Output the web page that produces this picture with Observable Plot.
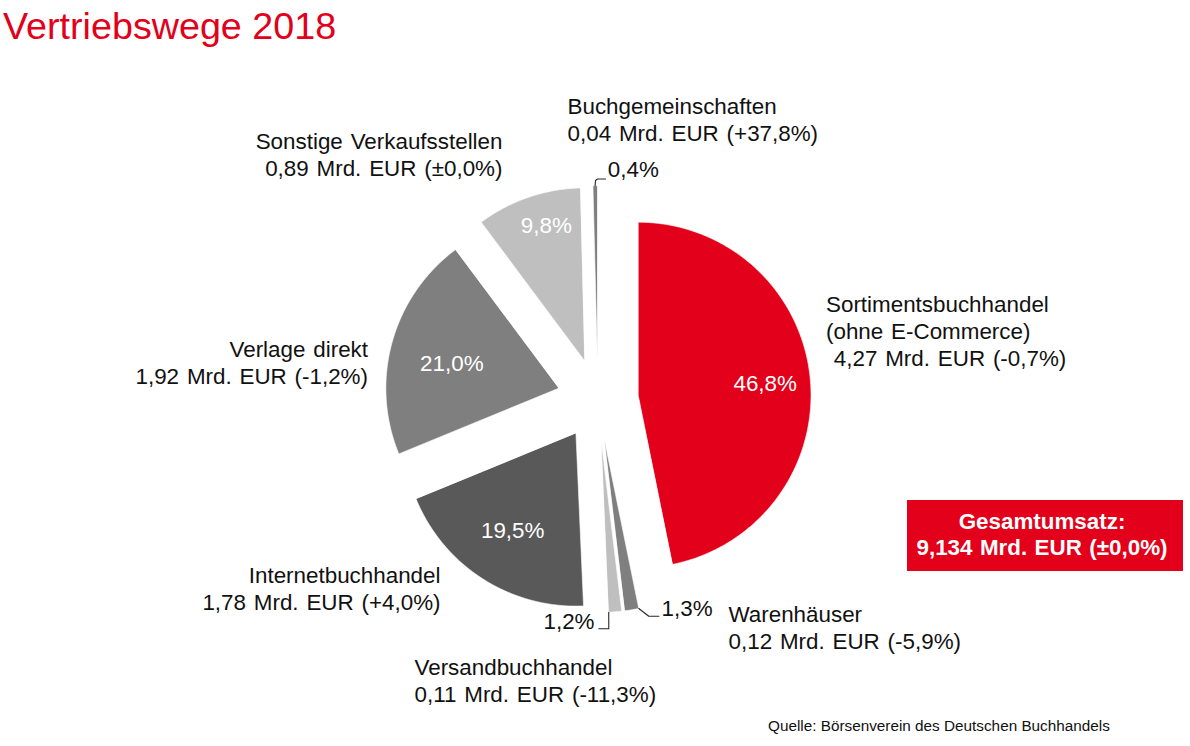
<!DOCTYPE html>
<html>
<head>
<meta charset="utf-8">
<script src="https://cdn.jsdelivr.net/npm/d3@7"></script>
<script src="https://cdn.jsdelivr.net/npm/@observablehq/plot@0.6"></script>
<style>
  html, body { margin: 0; padding: 0; background: #ffffff; }
  body { font-family: "Liberation Sans", Arial, sans-serif; }
  #wrap { position: relative; width: 1190px; height: 746px; overflow: hidden; }
  #title { height: 56px; box-sizing: border-box; padding: 8.1px 0 0 3px; font-size: 37.7px; line-height: 37.7px; color: #e2001a; white-space: nowrap; }
  #total { position: absolute; left: 907px; top: 500px; width: 276px; height: 71px; box-sizing: border-box; padding: 8.5px 6px 0 0; background: #e2001a; color: #ffffff; font-weight: bold; font-size: 22.4px; line-height: 26px; text-align: center; white-space: nowrap; word-spacing: 1.2px; }
  #source { position: absolute; left: 768px; top: 717.8px; font-size: 15.3px; line-height: 15.3px; color: #111111; white-space: nowrap; }
  #chart svg text { word-spacing: 1.6px; }
</style>
</head>
<body>
<div id="wrap">
  <div id="title"></div>
  <div id="chart"></div>
  <div id="total"></div>
  <div id="source"></div>
</div>
<script>
// ---------------- data ----------------
const titleText = "Vertriebswege 2018";
const names = ["Sortimentsbuchhandel", "Warenhäuser", "Versandbuchhandel", "Internetbuchhandel", "Verlage direkt", "Sonstige Verkaufsstellen", "Buchgemeinschaften"];
const nameExtras = ["(ohne E-Commerce)", "", "", "", "", "", ""];
const shares = [46.8, 1.3, 1.2, 19.5, 21.0, 9.8, 0.4];
const shareLabels = ["46,8%", "1,3%", "1,2%", "19,5%", "21,0%", "9,8%", "0,4%"];
const revenues = ["4,27", "0,12", "0,11", "1,78", "1,92", "0,89", "0,04"];
const changes = ["-0,7%", "-5,9%", "-11,3%", "+4,0%", "-1,2%", "±0,0%", "+37,8%"];
const totalLabel = "Gesamtumsatz:";
const totalRevenue = "9,134";
const totalChange = "±0,0%";
const sourceText = "Quelle: Börsenverein des Deutschen Buchhandels";

// ---------------- styles / layout ----------------
const sliceColors = ["#e2001a", "#7f7f7f", "#bfbfbf", "#595959", "#7f7f7f", "#bfbfbf", "#7f7f7f"];
const W = 1190, H = 656;          // svg size
const cx = 597.3, cy = 342.6;     // pie centre inside svg
const R = 172.8, explode = 40.6;  // radius and explode distance
const fontSize = 22.4, lineGap = 27;
// name label placement relative to pie centre: [dx, dy(last baseline), anchor]
const nameLayout = [
  [228.2, -33.6, "start"],
  [130.7, 249.7, "start"],
  [-183.3, 302.9, "start"],
  [-157.3, 210.9, "end"],
  [-229.8, -15.3, "end"],
  [-95.3, -223.6, "end"],
  [-30.3, -258.6, "start"]
];
// percent label placement: [dx, dy, anchor, inside]
const pctLayout = [
  [167.4, -16.9, "middle", true],
  [63.7, 216.4, "start", false],
  [-3.3, 229.7, "end", false],
  [-85.1, 130.7, "middle", true],
  [-146, -36.9, "middle", true],
  [-51.5, -174.6, "middle", true],
  [10, -222.6, "start", false]
];
// leader lines: which edge of the slice they start from, then elbow points
const leaderLayout = [
  null,
  {edge: "start", pts: [[51, 217.1], [61, 217.1]]},
  {edge: "end", pts: [[11, 229.7], [1, 229.7]]},
  null, null, null,
  {edge: "mid", pts: [[-2.3, -218.6], [-0.3, -220.1], [7.7, -220.1]]}
];

// ---------------- geometry ----------------
const data = names.map((n, i) => ({name: n, share: shares[i], i}));
const arcs = d3.pie().sort(null).value(d => d.share)(data);
const polar = (a, r) => [r * Math.sin(a), -r * Math.cos(a)];

const slices = arcs.map((a, i) => {
  const mid = (a.startAngle + a.endAngle) / 2;
  const [ox, oy] = polar(mid, explode);
  const pts = [{x: ox, y: oy}];
  const steps = Math.max(2, Math.ceil((a.endAngle - a.startAngle) / (Math.PI / 360)));
  for (let k = 0; k <= steps; k++) {
    const ang = a.startAngle + (a.endAngle - a.startAngle) * k / steps;
    const [px, py] = polar(ang, R);
    pts.push({x: ox + px, y: oy + py});
  }
  return {name: names[i], color: sliceColors[i], pts, ox, oy, arc: a, mid};
});

const leaders = [];
slices.forEach((s, i) => {
  const L = leaderLayout[i];
  if (!L) return;
  const ang = L.edge === "start" ? s.arc.startAngle : L.edge === "end" ? s.arc.endAngle : s.mid;
  const [px, py] = polar(ang, R);
  leaders.push({name: s.name, x: s.ox + px, y: s.oy + py});
  L.pts.forEach(([x, y]) => leaders.push({name: s.name, x, y}));
});

const nameLabels = names.map((n, i) => {
  const lines = [n];
  if (nameExtras[i]) lines.push(nameExtras[i]);
  const pre = nameExtras[i] ? "\u00a0" : "";
  lines.push(pre + revenues[i] + " Mrd. EUR (" + changes[i] + ")");
  return {x: nameLayout[i][0], y: nameLayout[i][1], anchor: nameLayout[i][2], text: lines.join("\n")};
});
const pctLabels = shareLabels.map((t, i) => ({x: pctLayout[i][0], y: pctLayout[i][1], anchor: pctLayout[i][2], inside: pctLayout[i][3], text: t}));

const textOpts = {x: "x", y: "y", text: "text", fontSize, lineHeight: lineGap / fontSize, fontFamily: "Liberation Sans, Arial, sans-serif"};

const marks = [
  ...slices.map(s => Plot.line(s.pts, {x: "x", y: "y", curve: "linear-closed", fill: s.color, stroke: "#ffffff", strokeWidth: 0.6})),
  Plot.line(leaders, {x: "x", y: "y", z: "name", stroke: "#262626", strokeWidth: 1.1}),
  ...["start", "end"].map(anchor => Plot.text(nameLabels.filter(d => d.anchor === anchor), {...textOpts, textAnchor: anchor, lineAnchor: "bottom", fill: "#111111"})),
  Plot.text(pctLabels.filter(d => d.inside), {...textOpts, textAnchor: "middle", lineAnchor: "middle", fill: "#ffffff"}),
  ...["start", "end"].map(anchor => Plot.text(pctLabels.filter(d => !d.inside && d.anchor === anchor), {...textOpts, textAnchor: anchor, lineAnchor: "bottom", fill: "#111111"}))
];

const chart = Plot.plot({
  width: W,
  height: H,
  margin: 0,
  style: {fontFamily: "Liberation Sans, Arial, sans-serif", background: "#ffffff", overflow: "visible"},
  x: {domain: [-cx, W - cx], range: [0, W], axis: null},
  y: {domain: [-cy, H - cy], range: [0, H], axis: null},
  marks
});

document.getElementById("title").textContent = titleText;
document.getElementById("chart").appendChild(chart);
document.getElementById("total").innerHTML = totalLabel + "<br>" + totalRevenue + " Mrd. EUR (" + totalChange + ")";
document.getElementById("source").textContent = sourceText;
</script>
</body>
</html>
